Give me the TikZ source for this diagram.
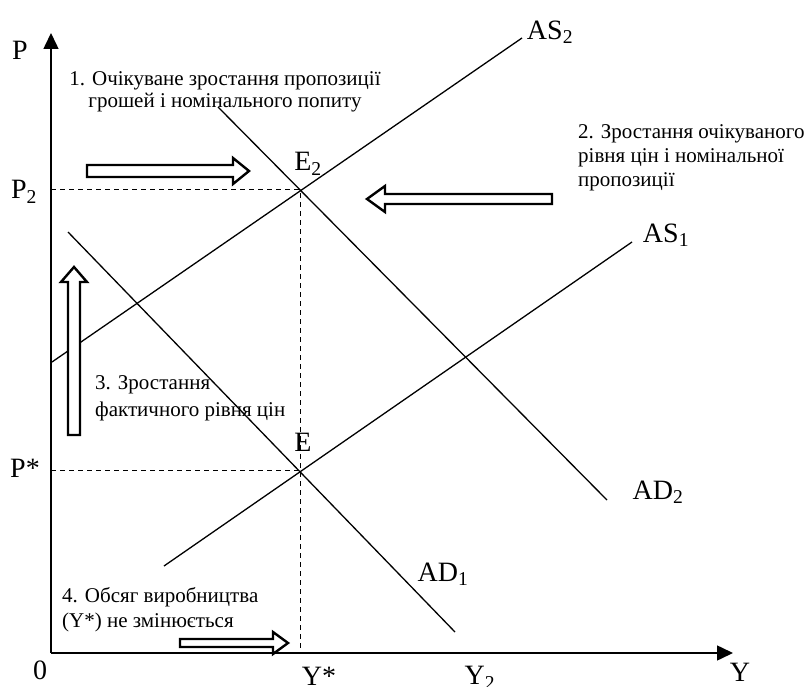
\documentclass[tikz,border=0pt]{standalone}
\usepackage{fontspec}
\setmainfont{Liberation Serif}
\usetikzlibrary{arrows.meta}

\tikzset{
	curve/.style={line width=1.3pt},
	axis/.style={line width=1.5pt, -{Triangle[length=16pt,width=15pt]}},
	guide/.style={line width=1pt, dash pattern=on 5pt off 4pt},
	fatarrow/.style={line width=2.4pt, line join=miter, fill=white},
	lbl/.style={font=\fontsize{28}{32}\selectfont, inner sep=0pt},
	note/.style={font=\fontsize{21}{24}\selectfont, inner sep=0pt},
}

\begin{document}
\begin{tikzpicture}[x=1pt, y=-1pt]
	\useasboundingbox (0,0) rectangle (808,687);

	% axes
	\coordinate (O) at (51,653);
	\draw[axis] (O) -- (51,33);
	\draw[axis] (O) -- (733,653);

	% equilibria and guide lines
	\coordinate (E) at (300,470);
	\coordinate (E2) at (300,190);
	\draw[guide] (51,190) -- (E2) -- (300,653);
	\draw[guide] (51,470) -- (E);

	% curves
	\draw[curve] (52,362) -- (522,38);
	\draw[curve] (164,566) -- (632,242);
	\draw[curve] (68,232) -- (455,632);
	\draw[curve] (218,107) -- (607,500);

	% block arrows
	\draw[fatarrow] (87,165) -- (233,165) -- (233,158) -- (249,171) -- (233,184) -- (233,177) -- (87,177) -- cycle;
	\draw[fatarrow] (552,194) -- (385,194) -- (385,186) -- (367,199) -- (385,212) -- (385,204) -- (552,204) -- cycle;
	\draw[fatarrow] (68,435) -- (68,282) -- (61,282) -- (74,267) -- (87,282) -- (80,282) -- (80,435) -- cycle;
	\draw[fatarrow] (180,639) -- (273,639) -- (273,632) -- (288,643) -- (273,654) -- (273,647) -- (180,647) -- cycle;

	% labels
	\node[lbl] (labP) at (20,50) {P};
	\node[lbl] (labP2) at (24,192) {P\textsubscript{2}};
	\node[lbl] (labPs) at (25,468) {P*};
	\node[lbl] (lab0) at (40,670) {0};
	\node[lbl] (labYs) at (319,676) {Y*};
	\node[lbl] (labY2) at (480,678) {Y\textsubscript{2}};
	\node[lbl] (labY) at (740,672) {Y};
	\node[lbl] (labE) at (303,442) {E};
	\node[lbl] (labE2) at (308,164) {E\textsubscript{2}};
	\node[lbl] (labAS2) at (550,32) {AS\textsubscript{2}};
	\node[lbl] (labAS1) at (666,235) {AS\textsubscript{1}};
	\node[lbl] (labAD1) at (443,574) {AD\textsubscript{1}};
	\node[lbl] (labAD2) at (658,492) {AD\textsubscript{2}};

	% notes
	\node[note, align=center, font=\fontsize{21}{22}\selectfont] (note1) at (225,92) {1. Очікуване зростання пропозиції\\грошей і номінального попиту};
	\node[note, align=left, anchor=west] (note2) at (578,158) {2. Зростання очікуваного\\рівня цін і номінальної\\пропозиції};
	\node[note, align=left, anchor=west, font=\fontsize{21}{27}\selectfont] (note3) at (95,398) {3. Зростання\\фактичного рівня цін};
	\node[note, align=left, anchor=west, font=\fontsize{21}{25}\selectfont] (note4) at (62,610) {4. Обсяг виробництва\\(Y*) не змінюється};

\end{tikzpicture}
\end{document}
